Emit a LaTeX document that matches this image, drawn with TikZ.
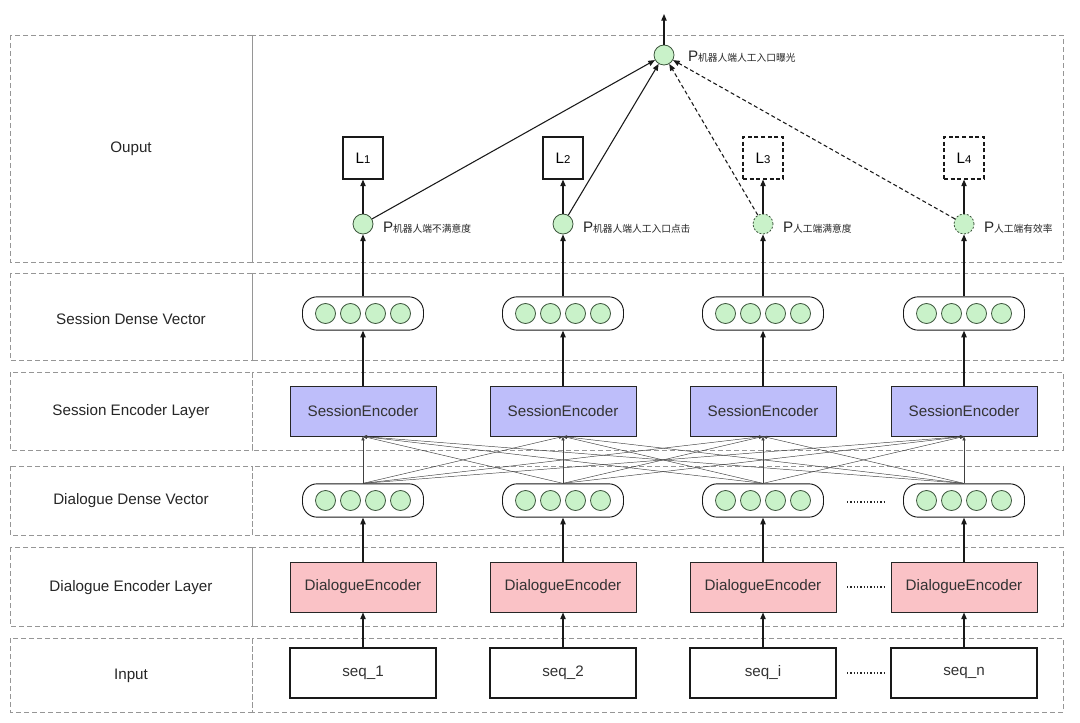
\documentclass[tikz,border=0pt]{standalone}
\usepackage{fontspec}
\setmainfont{Liberation Sans}
\newfontfamily\cjk{Noto Sans CJK SC}
\usetikzlibrary{arrows.meta}
\definecolor{sencfill}{RGB}{190,190,250}
\definecolor{dencfill}{RGB}{250,194,198}
\definecolor{dotfill}{RGB}{201,242,201}
\definecolor{dotline}{RGB}{60,85,60}
\definecolor{rowline}{RGB}{150,150,150}
\begin{document}
\begin{tikzpicture}[x=0.75pt,y=-0.75pt,
  font=\fontsize{11.4}{13}\selectfont,
  rowbox/.style={draw=rowline, dash pattern=on 3.5pt off 2.5pt, line width=0.6pt},
  rowlabel/.style={text=black!85},
  sencbox/.style={draw=black!85, line width=0.7pt, fill=sencfill, minimum width=109.5pt, minimum height=37.5pt, text=black!80},
  dencbox/.style={draw=black!85, line width=0.7pt, fill=dencfill, minimum width=109.5pt, minimum height=37.5pt, text=black!80},
  seqbox/.style={draw=black!90, line width=0.8pt, fill=white, minimum width=109.5pt, minimum height=37.5pt, text=black!80},
  pill/.style={draw=black!90, line width=0.7pt, rounded corners=11pt, minimum width=90.75pt, minimum height=25pt, fill=white},
  gdot/.style={circle, draw=dotline, line width=0.6pt, fill=dotfill, minimum size=15pt, inner sep=0pt},
  gdotd/.style={gdot, dash pattern=on 1.5pt off 1.2pt},
  lbox/.style={draw=black!90, line width=0.8pt, minimum width=30pt, minimum height=31.5pt, inner sep=0pt},
  lboxd/.style={lbox, dash pattern=on 3pt off 2pt},
  arr/.style={-{Triangle[length=5pt,width=4pt]}, line width=0.9pt, black!90},
  fan/.style={-{Triangle[length=3pt,width=2.4pt]}, line width=0.35pt, black!75},
  plabel/.style={anchor=west, inner sep=0pt, text=black!85},
  dots/.style={dash pattern=on 0.9pt off 1.6pt, line width=1pt, black!85}
]
\useasboundingbox (0,0) rectangle (1080,723);

% row frames
\foreach \ya/\yb in {35/262, 273/360, 372/450, 466/535, 547/626, 638/712}{
  \draw[rowbox] (10,\ya) rectangle (252,\yb);
  \draw[rowbox] (252,\ya) rectangle (1063,\yb);
}
\node[rowlabel] (lab1) at (131,149) {Ouput};
\node[rowlabel] (lab2) at (131,319) {Session Dense Vector};
\node[rowlabel] (lab3) at (131,412) {Session Encoder Layer};
\node[rowlabel] (lab4) at (131,501) {Dialogue Dense Vector};
\node[rowlabel] (lab5) at (131,588) {Dialogue Encoder Layer};
\node[rowlabel] (lab6) at (131,676) {Input};

% columns
\foreach \i/\x/\s in {1/363/seq\_1, 2/563/seq\_2, 3/763/seq\_i, 4/964/seq\_n}{
  \node[seqbox] (seq\i) at (\x,673) {\s};
  \node[dencbox] (de\i) at (\x,587) {DialogueEncoder};
  \node[pill] (dd\i) at (\x,500.5) {};
  \foreach \k/\dx in {1/-37.5,2/-12.5,3/12.5,4/37.5}{
    \node[gdot] (dd\i c\k) at (\x+\dx,500.5) {};
  }
  \node[sencbox] (se\i) at (\x,411) {SessionEncoder};
  \node[pill] (sd\i) at (\x,313.5) {};
  \foreach \k/\dx in {1/-37.5,2/-12.5,3/12.5,4/37.5}{
    \node[gdot] (sd\i c\k) at (\x+\dx,313.5) {};
  }
  \draw[arr] (seq\i) -- (de\i);
  \draw[arr] (de\i) -- (dd\i);
  \draw[arr] (se\i) -- (sd\i);
}

% fan connections
\foreach \i in {1,2,3,4}{
  \foreach \j in {1,2,3,4}{
    \draw[fan] (dd\i.north) -- (se\j.south);
  }
}

% ellipsis dots
\draw[dots] (847,673) -- (884,673);
\draw[dots] (847,587) -- (884,587);
\draw[dots] (847,502) -- (884,502);

% output layer
\node[gdot] (p1) at (363,224) {};
\node[gdot] (p2) at (563,224) {};
\node[gdotd] (p3) at (763,224) {};
\node[gdotd] (p4) at (964,224) {};
\node[lbox] (l1) at (363,158) {L{\fontsize{8.5}{9}\selectfont 1}};
\node[lbox] (l2) at (563,158) {L{\fontsize{8.5}{9}\selectfont 2}};
\node[lboxd] (l3) at (763,158) {L{\fontsize{8.5}{9}\selectfont 3}};
\node[lboxd] (l4) at (964,158) {L{\fontsize{8.5}{9}\selectfont 4}};
\foreach \i in {1,2,3,4}{
  \draw[arr] (sd\i) -- (p\i);
  \draw[arr] (p\i) -- (l\i);
}
\node[gdot] (ptop) at (664,55) {};
\coordinate (topend) at (664,14);
\draw[arr] (ptop) -- (topend);

\draw[arr, line width=0.8pt] (p1) -- (ptop);
\draw[arr, line width=0.8pt] (p2) -- (ptop);
\draw[arr, line width=0.8pt, dash pattern=on 3pt off 2pt] (p3) -- (ptop);
\draw[arr, line width=0.8pt, dash pattern=on 3pt off 2pt] (p4) -- (ptop);

\newcommand{\cjksmall}[1]{{\cjk\fontsize{7.3}{9}\selectfont #1}}
\node[plabel] (pt1) at ([xshift=7pt,yshift=-2.5pt]p1.east) {P\cjksmall{机器人端不满意度}};
\node[plabel] (pt2) at ([xshift=7pt,yshift=-2.5pt]p2.east) {P\cjksmall{机器人端人工入口点击}};
\node[plabel] (pt3) at ([xshift=7pt,yshift=-2.5pt]p3.east) {P\cjksmall{人工端满意度}};
\node[plabel] (pt4) at ([xshift=7pt,yshift=-2.5pt]p4.east) {P\cjksmall{人工端有效率}};
\node[plabel] (ptt) at ([xshift=10pt,yshift=-1.5pt]ptop.east) {P\cjksmall{机器人端人工入口曝光}};
\end{tikzpicture}
\end{document}
